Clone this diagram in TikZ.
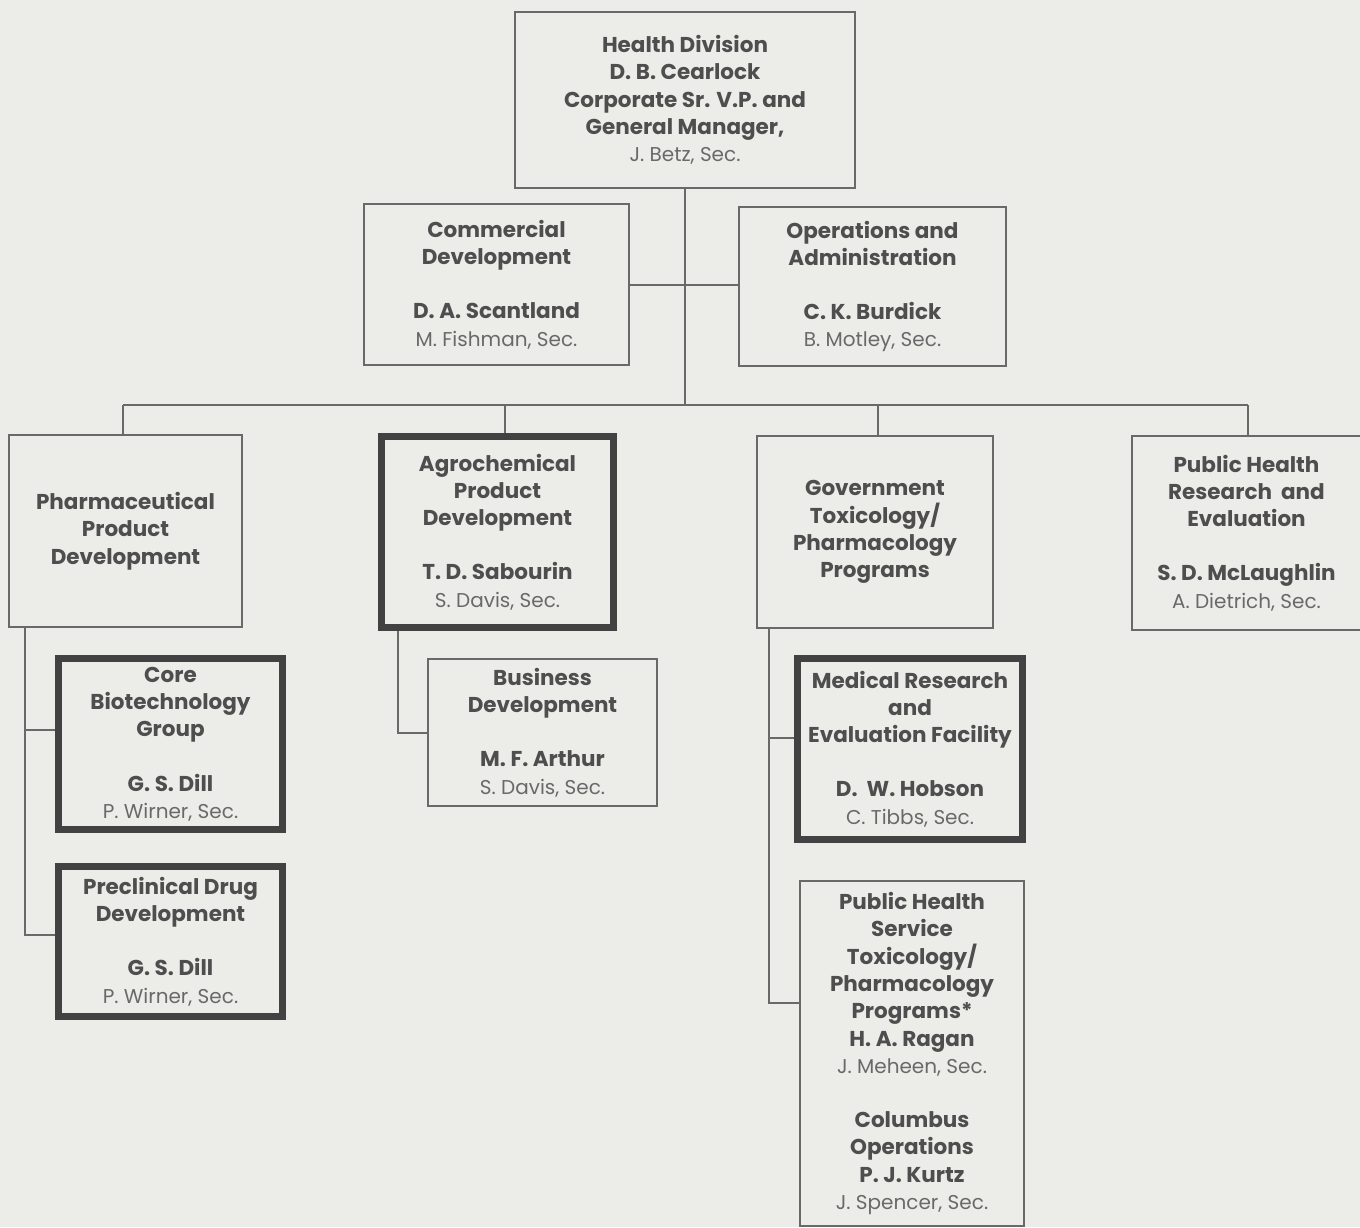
\documentclass[tikz,border=0pt]{standalone}
\usepackage{fontspec}
\setmainfont{Poppins}
\definecolor{paper}{RGB}{236,236,233}
\definecolor{ink}{RGB}{78,78,78}
\definecolor{inklight}{RGB}{105,105,105}
\definecolor{rule}{RGB}{105,105,105}
\newcommand\secline[1]{{\mdseries\fontsize{20}{27.3}\selectfont\color{inklight}#1}}
\tikzset{
  unit/.style={draw=rule, line width=2pt, fill=paper, rectangle, inner sep=0pt,
    align=center, text=ink, font=\bfseries\fontsize{21.5}{27.3}\selectfont},
  keyunit/.style={unit, line width=7pt, draw=ink!85!black},
  conn/.style={draw=rule, line width=2pt},
}
\begin{document}
\begin{tikzpicture}[x=1pt,y=-1pt]
\fill[paper] (0,0) rectangle (1360,1227);
\useasboundingbox (0,0) rectangle (1360,1227);

% division head
\node[unit, minimum width=340, minimum height=176] (top) at (685,100)
  {Health Division\\ D. B. Cearlock\\ Corporate Sr. V.P. and\\ General Manager,\\ \secline{J. Betz, Sec.}};

% staff units
\node[unit, minimum width=265, minimum height=161] (cd) at (496.5,284.5)
  {Commercial\\ Development\\[27pt] D. A. Scantland\\ \secline{M. Fishman, Sec.}};
\node[unit, minimum width=267, minimum height=159] (oa) at (872.5,286.5)
  {Operations and\\ Administration\\[27pt] C. K. Burdick\\ \secline{B. Motley, Sec.}};

% line departments
\node[unit, minimum width=233, minimum height=192] (pharm) at (125.5,531)
  {Pharmaceutical\\ Product\\ Development};
\node[keyunit, minimum width=232, minimum height=191] (agro) at (497.5,532)
  {Agrochemical\\ Product\\ Development\\[27pt] T. D. Sabourin\\ \secline{S. Davis, Sec.}};
\node[unit, minimum width=236, minimum height=192] (gov) at (875,532)
  {Government\\ Toxicology/\\ Pharmacology\\ Programs};
\node[unit, minimum width=229, minimum height=194] (phre) at (1246.5,533)
  {Public Health\\ Research\ \ and\\ Evaluation\\[27pt] S. D. McLaughlin\\ \secline{A. Dietrich, Sec.}};

% sub-units
\node[keyunit, minimum width=224, minimum height=171] (core) at (170.5,744)
  {Core\\ Biotechnology\\ Group\\[27pt] G. S. Dill\\ \secline{P. Wirner, Sec.}};
\node[keyunit, minimum width=224, minimum height=150] (pre) at (170.5,941.5)
  {Preclinical Drug\\ Development\\[27pt] G. S. Dill\\ \secline{P. Wirner, Sec.}};
\node[unit, minimum width=229, minimum height=147] (biz) at (542.5,732.5)
  {Business\\ Development\\[27pt] M. F. Arthur\\ \secline{S. Davis, Sec.}};
\node[keyunit, minimum width=225, minimum height=181] (med) at (910,749)
  {Medical Research\\ and\\ Evaluation Facility\\[27pt] D.\ \ W. Hobson\\ \secline{C. Tibbs, Sec.}};
\node[unit, minimum width=224, minimum height=345] (phs) at (912,1053.5)
  {Public Health\\ Service\\ Toxicology/\\ Pharmacology\\ Programs*\\ H. A. Ragan\\ \secline{J. Meheen, Sec.}\\[27pt]
   Columbus\\ Operations\\ P. J. Kurtz\\ \secline{J. Spencer, Sec.}};

% connectors: head to staff and departments
\coordinate (busL) at (123,405);
\coordinate (busR) at (1248,405);
\coordinate (dA) at (505,405);
\coordinate (dG) at (878,405);
\draw[conn] (top.south) -- (top.south |- busL);
\draw[conn] (cd.east) -- (cd.east -| oa.west);
\draw[conn] (busL) -- (busR);
\draw[conn] (busL) -- (busL |- pharm.north);
\draw[conn] (dA) -- (dA |- agro.north);
\draw[conn] (dG) -- (dG |- gov.north);
\draw[conn] (busR) -- (busR |- phre.north);

% connectors: departments to sub-units
\coordinate (pS) at (25,627);
\draw[conn] (pS) -- (25,935) -- (25,935 -| pre.west);
\draw[conn] (25,730) -- (25,730 -| core.west);
\coordinate (aS) at (398,631);
\draw[conn] (aS) -- (aS |- biz.west) -- (biz.west);
\coordinate (gS) at (769,628);
\draw[conn] (gS) -- (769,1003) -- (769,1003 -| phs.west);
\draw[conn] (769,738) -- (769,738 -| med.west);
\end{tikzpicture}
\end{document}
